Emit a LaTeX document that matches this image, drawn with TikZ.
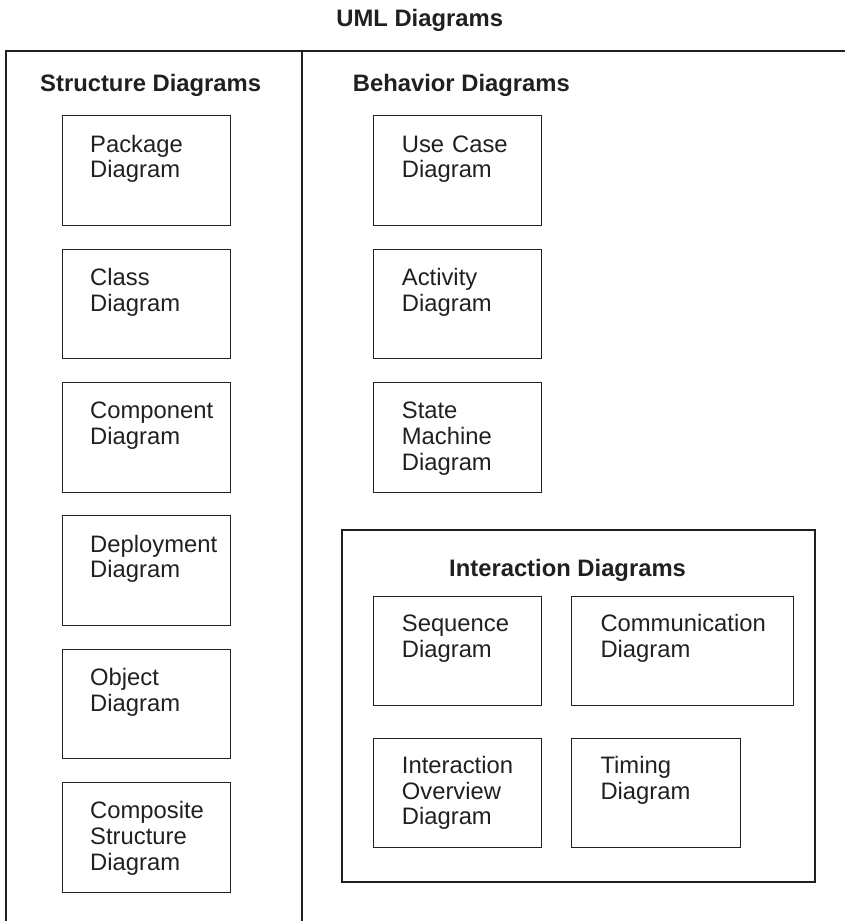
\documentclass[tikz,border=0pt]{standalone}
\usepackage{fontspec}
\setmainfont{Liberation Sans}
\usetikzlibrary{calc}
\definecolor{ink}{RGB}{35,31,32}
\tikzset{
  frame/.style={draw=ink, line width=2pt},
  dbox/.style={draw=ink, line width=1.1pt, anchor=north west, inner sep=0pt, minimum height=109.5pt},
  lbl/.style={anchor=base west, inner sep=0pt, text=ink, text width=220pt, align=left,
    font=\fontsize{23.8}{25.6}\selectfont},
  head/.style={anchor=base west, inner sep=0pt, text=ink,
    font=\fontsize{23.8}{25.6}\selectfont\bfseries},
}
\begin{document}
\begin{tikzpicture}[x=1pt,y=-1pt]
\useasboundingbox (0,0) rectangle (845,921);
% outer frame (open at right and bottom)
\coordinate (fbl) at (6,921);
\coordinate (ftl) at (6,51);
\coordinate (ftr) at (845,51);
\coordinate (dtop) at (302,51);
\coordinate (dbot) at (302,921);
\draw[frame] (fbl) -- (ftl) -- (ftr);
\draw[frame] (dtop) -- (dbot);

\node[head, anchor=base] (title) at (419.7,26) {UML Diagrams};
\node[head] (hs) at (40,91.7) {Structure Diagrams};
\node[head] (hb) at (352.7,91.7) {Behavior Diagrams};

% structure diagrams
\node[dbox, minimum width=168.5pt] (pkg) at (61.7,115.3) {};
\node[dbox, minimum width=168.5pt] (cls) at (61.7,248.7) {};
\node[dbox, minimum width=168.5pt] (cmp) at (61.7,382) {};
\node[dbox, minimum width=168.5pt] (dep) at (61.7,515.3) {};
\node[dbox, minimum width=168.5pt] (obj) at (61.7,648.6) {};
\node[dbox, minimum width=168.5pt] (cst) at (61.7,782) {};
\node[lbl] (tpkg) at ($(pkg.north west)+(28.3,36.8)$) {Package\\Diagram};
\node[lbl] (tcls) at ($(cls.north west)+(28.3,36.8)$) {Class\\Diagram};
\node[lbl] (tcmp) at ($(cmp.north west)+(28.3,36.8)$) {Component\\Diagram};
\node[lbl] (tdep) at ($(dep.north west)+(28.3,36.8)$) {Deployment\\Diagram};
\node[lbl] (tobj) at ($(obj.north west)+(28.3,36.8)$) {Object\\Diagram};
\node[lbl] (tcst) at ($(cst.north west)+(28.3,36.8)$) {Composite\\Structure\\Diagram};

% behavior diagrams
\node[dbox, minimum width=168.6pt] (uc) at (372.7,115.3) {};
\node[dbox, minimum width=168.6pt] (act) at (372.7,248.7) {};
\node[dbox, minimum width=168.6pt] (sm) at (372.7,382) {};
\node[lbl] (tuc) at ($(uc.north west)+(29,36.8)$) {Use Case\\Diagram};
\node[lbl] (tact) at ($(act.north west)+(29,36.8)$) {Activity\\Diagram};
\node[lbl] (tsm) at ($(sm.north west)+(29,36.8)$) {State\\Machine\\Diagram};

% interaction diagrams
\node[frame, anchor=north west, inner sep=0pt, minimum width=473.3pt, minimum height=352pt] (inter) at (341,529) {};
\node[head] (hi) at (449,576.7) {Interaction Diagrams};
\node[dbox, minimum width=168.6pt] (seq) at (372.7,595.7) {};
\node[dbox, minimum width=221.7pt] (com) at (571.3,595.7) {};
\node[dbox, minimum width=168.6pt] (iov) at (372.7,737.7) {};
\node[dbox, minimum width=168.7pt] (tim) at (571.3,737.7) {};
\node[lbl] (tseq) at ($(seq.north west)+(29,36)$) {Sequence\\Diagram};
\node[lbl] (tcom) at ($(com.north west)+(29,36)$) {Communication\\Diagram};
\node[lbl] (tiov) at ($(iov.north west)+(29,36)$) {Interaction\\Overview\\Diagram};
\node[lbl] (ttim) at ($(tim.north west)+(29,36)$) {Timing\\Diagram};
\end{tikzpicture}
\end{document}
